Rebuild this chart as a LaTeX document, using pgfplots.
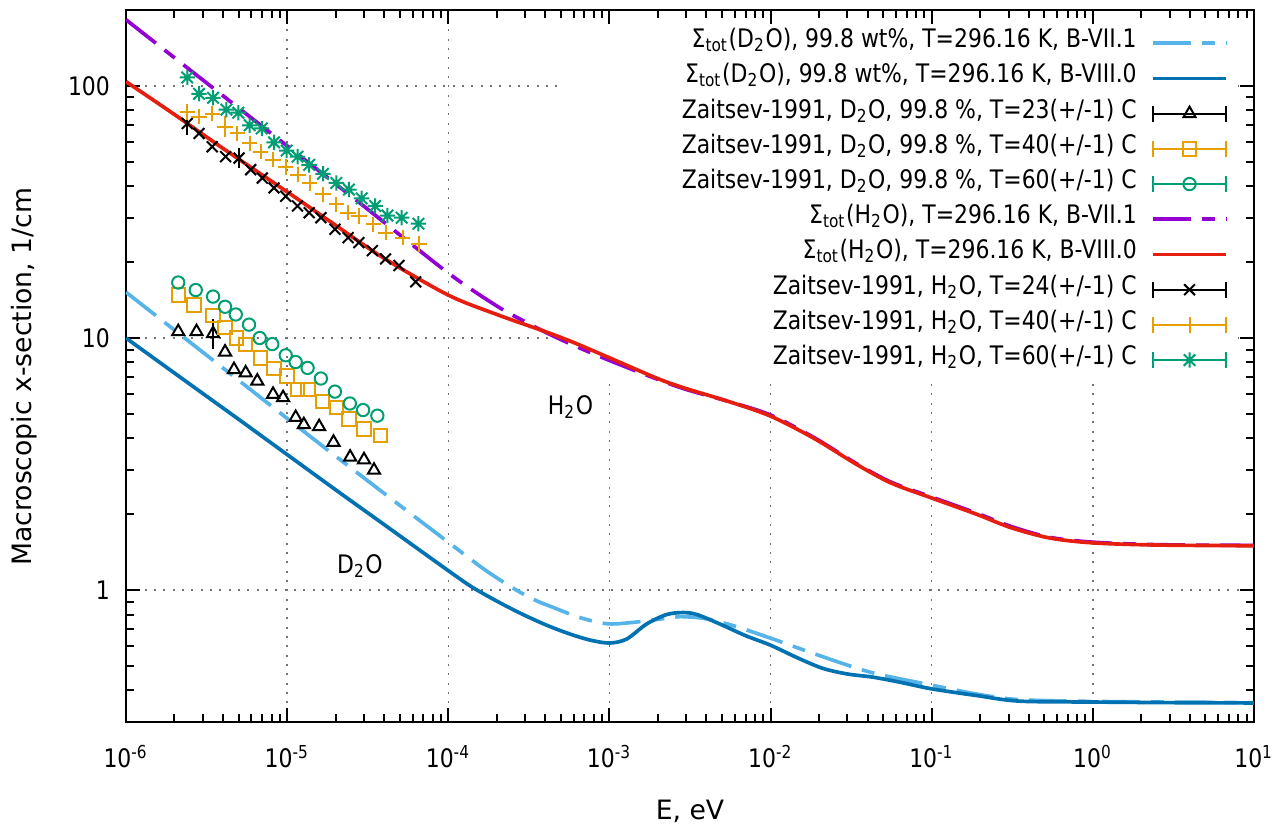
\documentclass[border=0pt]{standalone}
\usepackage{fontspec}
\setmainfont{DejaVu Sans}[FakeStretch=0.86]
\newfontfamily\labelfont{DejaVu Sans}
\usepackage{pgfplots}
\pgfplotsset{compat=1.18}
\definecolor{gpsky}{HTML}{56B4E9}
\definecolor{gpblue}{HTML}{0072B2}
\definecolor{gporange}{HTML}{E69F00}
\definecolor{gpgreen}{HTML}{009E73}
\definecolor{gppurple}{HTML}{9400D3}
\definecolor{gpred}{HTML}{E51E10}
\newcommand\tf{\fontsize{7.65}{9}\selectfont}
\pgfdeclareplotmark{gpstar}{%
 \pgfpathmoveto{\pgfqpoint{-\pgfplotmarksize}{0pt}}%
 \pgfpathlineto{\pgfqpoint{\pgfplotmarksize}{0pt}}%
 \pgfpathmoveto{\pgfqpoint{0pt}{-\pgfplotmarksize}}%
 \pgfpathlineto{\pgfqpoint{0pt}{\pgfplotmarksize}}%
 \pgfpathmoveto{\pgfqpoint{-.75\pgfplotmarksize}{-.75\pgfplotmarksize}}%
 \pgfpathlineto{\pgfqpoint{.75\pgfplotmarksize}{.75\pgfplotmarksize}}%
 \pgfpathmoveto{\pgfqpoint{-.75\pgfplotmarksize}{.75\pgfplotmarksize}}%
 \pgfpathlineto{\pgfqpoint{.75\pgfplotmarksize}{-.75\pgfplotmarksize}}%
 \pgfusepathqstroke}
\pgfplotsset{
 linelegend/.style={legend image code/.code={\draw (0pt,0pt) -- (22pt,0pt);}},
 errlegend/.style={legend image code/.code={%
   \draw[solid] (0pt,0pt) -- (22pt,0pt);
   \draw[solid] (0pt,-2.4pt) -- (0pt,2.4pt);
   \draw[solid] (22pt,-2.4pt) -- (22pt,2.4pt);
   \draw plot coordinates {(11pt,0pt)};}},
 gpdash/.style={dash pattern=on 11.4pt off 3.3pt on 3.9pt off 3.3pt},
 curve/.style={line width=1.1pt, smooth, tension=0.5, no marks, linelegend},
 pts/.style={only marks, line width=0.6pt, mark options={solid}, errlegend},
 ebar/.style={only marks, mark=*, mark options={opacity=0}, forget plot,
   error bars/y dir=both, error bars/y explicit,
   error bars/error bar style={line width=0.6pt, opacity=1},
   error bars/error mark options={opacity=1, mark size=2pt, line width=0.6pt}},
}
\begin{document}
\begin{tikzpicture}
\begin{axis}[
 name=ax,
 xmode=log, ymode=log,
 scale only axis, width=338.4pt, height=213.6pt,
 xmin=1e-6, xmax=10, ymin=0.3, ymax=200,
 xtick={1e-6,1e-5,1e-4,1e-3,1e-2,1e-1,1,10},
 xticklabels={10\textsuperscript{-6},10\textsuperscript{-5},10\textsuperscript{-4},10\textsuperscript{-3},10\textsuperscript{-2},10\textsuperscript{-1},10\textsuperscript{0},10\textsuperscript{1}},
 minor xtick={2e-6,3e-6,4e-6,5e-6,6e-6,7e-6,8e-6,9e-6,
  2e-5,3e-5,4e-5,5e-5,6e-5,7e-5,8e-5,9e-5,
  2e-4,3e-4,4e-4,5e-4,6e-4,7e-4,8e-4,9e-4,
  2e-3,3e-3,4e-3,5e-3,6e-3,7e-3,8e-3,9e-3,
  2e-2,3e-2,4e-2,5e-2,6e-2,7e-2,8e-2,9e-2,
  0.2,0.3,0.4,0.5,0.6,0.7,0.8,0.9,
  2,3,4,5,6,7,8,9},
 ytick={1,10,100}, yticklabels={1,10,100},
 minor ytick={0.4,0.5,0.6,0.7,0.8,0.9,2,3,4,5,6,7,8,9,20,30,40,50,60,70,80,90},
 tick align=inside,
 major tick length=4.2pt, minor tick length=2.5pt,
 tick style={black, line width=0.6pt},
 axis line style={line width=0.8pt},
 grid=major,
 major grid style={black!55, line width=0.45pt, dash pattern=on 0.6pt off 2.2pt},
 tick label style={font=\tf},
 xticklabel style={anchor=base, yshift=-13.8pt},
 yticklabel style={xshift=-1.3pt},
 xlabel={E, eV}, ylabel={Macroscopic x-section, 1/cm},
 label style={font=\labelfont\fontsize{8}{9.6}\selectfont},
 xlabel style={at={(axis description cs:0.5,-0.1376)}, anchor=base},
 ylabel style={at={(axis description cs:-0.0904,0.485)}, anchor=center},
 legend style={at={(axis description cs:0.977,0.978)}, anchor=north east, draw=none, fill=none,
   inner sep=0pt, outer sep=0pt, font=\tf, row sep=0pt, column sep=4.3pt,
   nodes={inner sep=0pt, text height=6.6pt, text depth=3.96pt}},
 legend cell align=right, legend plot pos=right,
]
\fill[white] (axis description cs:0.387,0.483) rectangle (axis description cs:0.986,0.98);

\addplot[curve, gpsky, gpdash] coordinates {(1e-6,15.2)(2e-6,10.75)(5e-6,6.8)(1e-5,4.8)(2e-5,3.4)(5e-5,2.17)(1e-4,1.55)(1.7e-4,1.2)(2.65e-4,1.0)(3.5e-4,0.91)(4.5e-4,0.853)(6.5e-4,0.78)(9.6e-4,0.736)(1.4e-3,0.745)(2.5e-3,0.78)(2.9e-3,0.785)(4e-3,0.77)(6e-3,0.72)(1e-2,0.645)(2.1e-2,0.545)(4.3e-2,0.47)(0.1,0.42)(0.2,0.385)(0.35,0.368)(1,0.362)(10,0.358)};
\addlegendentry{Σ\textsubscript{tot}(D\textsubscript{2}O), 99.8 wt\%, T=296.16 K, B-VII.1}

\addplot[curve, gpblue] coordinates {(1e-6,10.0)(2e-6,7.26)(5e-6,4.76)(1e-5,3.45)(2e-5,2.5)(4e-5,1.82)(1e-4,1.195)(1.4e-4,1.03)(2e-4,0.905)(2.8e-4,0.81)(4e-4,0.73)(5.5e-4,0.675)(7.5e-4,0.635)(1e-3,0.617)(1.28e-3,0.64)(1.7e-3,0.734)(2.26e-3,0.80)(2.87e-3,0.815)(3.5e-3,0.80)(4.85e-3,0.734)(7e-3,0.66)(1e-2,0.605)(1.46e-2,0.54)(2.1e-2,0.49)(3e-2,0.465)(4.3e-2,0.452)(6.4e-2,0.431)(0.1,0.406)(0.19,0.382)(0.35,0.363)(1,0.36)(3,0.358)(10,0.357)};
\addlegendentry{Σ\textsubscript{tot}(D\textsubscript{2}O), 99.8 wt\%, T=296.16 K, B-VIII.0}

\addplot[pts, black, mark=triangle, mark size=2.1pt] coordinates {(2.11e-6,10.6)(2.74e-6,10.6)(3.47e-6,10.4)(4.12e-6,8.8)(4.68e-6,7.5)(5.53e-6,7.27)(6.53e-6,6.75)(8.18e-6,5.98)(9.44e-6,5.8)(1.13e-5,4.84)(1.27e-5,4.53)(1.58e-5,4.45)(1.94e-5,3.86)(2.46e-5,3.37)(3.0e-5,3.29)(3.46e-5,2.99)};
\addlegendentry{Zaitsev-1991, D\textsubscript{2}O, 99.8 \%, T=23(+/-1) C}
\addplot[black, ebar] coordinates {(3.47e-6,10.4) +- (0,0.75)};

\addplot[pts, gporange, mark=square, mark size=2.0pt] coordinates {(2.11e-6,14.8)(2.64e-6,13.5)(3.47e-6,12.3)(4.12e-6,11.0)(4.84e-6,10.0)(5.53e-6,9.4)(6.85e-6,8.33)(8.29e-6,7.57)(1.0e-5,7.06)(1.16e-5,6.26)(1.35e-5,6.26)(1.66e-5,5.6)(2.02e-5,5.3)(2.42e-5,4.77)(3.0e-5,4.36)(3.81e-5,4.1)};
\addlegendentry{Zaitsev-1991, D\textsubscript{2}O, 99.8 \%, T=40(+/-1) C}

\addplot[pts, gpgreen, mark=o, mark size=1.85pt] coordinates {(2.11e-6,16.6)(2.71e-6,15.5)(3.47e-6,14.6)(4.12e-6,13.3)(4.8e-6,12.4)(5.8e-6,11.3)(6.76e-6,10.0)(8.09e-6,9.46)(9.8e-6,8.54)(1.13e-5,8.03)(1.34e-5,7.61)(1.62e-5,6.91)(1.98e-5,6.13)(2.45e-5,5.5)(2.96e-5,5.18)(3.63e-5,4.92)};
\addlegendentry{Zaitsev-1991, D\textsubscript{2}O, 99.8 \%, T=60(+/-1) C}

\addplot[curve, gppurple, gpdash] coordinates {(1e-6,183)(3e-6,105.5)(1e-5,57.8)(3e-5,33.3)(1e-4,18.1)(2e-4,13.4)(3e-4,11.6)(4e-4,10.55)(6e-4,9.35)(1e-3,8.15)(2e-3,6.85)(3e-3,6.25)(5.5e-3,5.6)(1e-2,4.95)(1.86e-2,4.03)(3.43e-2,3.17)(5.6e-2,2.68)(0.1,2.34)(0.19,2.02)(0.31,1.79)(0.54,1.62)(1,1.55)(2.5,1.515)(10,1.505)};
\addlegendentry{Σ\textsubscript{tot}(H\textsubscript{2}O), T=296.16 K, B-VII.1}

\addplot[curve, gpred] coordinates {(1e-6,104)(2e-6,77)(4e-6,56.5)(1e-5,38)(2e-5,28)(4e-5,20.7)(1e-4,14.8)(2e-4,12.4)(4e-4,10.6)(6e-4,9.6)(1e-3,8.35)(2e-3,6.9)(3e-3,6.3)(5.5e-3,5.6)(1e-2,4.9)(1.86e-2,4.0)(3.43e-2,3.15)(5.6e-2,2.66)(0.1,2.32)(0.19,2.0)(0.31,1.77)(0.54,1.61)(1,1.54)(2.5,1.51)(10,1.50)};
\addlegendentry{Σ\textsubscript{tot}(H\textsubscript{2}O), T=296.16 K, B-VIII.0}

\addplot[pts, black, mark=x, mark size=2.3pt] coordinates {(2.4e-6,70.9)(2.84e-6,64.8)(3.43e-6,57.4)(4.15e-6,52.4)(5.03e-6,51.7)(5.94e-6,46.5)(7.02e-6,43.1)(8.29e-6,39.4)(9.8e-6,36.5)(1.16e-5,33.4)(1.37e-5,31.4)(1.62e-5,30.0)(1.98e-5,27.0)(2.39e-5,25.0)(2.79e-5,23.9)(3.38e-5,22.2)(4.08e-5,20.6)(4.95e-5,19.4)(6.28e-5,16.7)};
\addlegendentry{Zaitsev-1991, H\textsubscript{2}O, T=24(+/-1) C}
\addplot[black, ebar] coordinates {(2.4e-6,70.9) +- (0,3) (5.03e-6,51.7) +- (0,1.5)};

\addplot[pts, gporange, mark=+, mark size=2.3pt] coordinates {(2.4e-6,78.8)(2.84e-6,75.4)(3.43e-6,77.6)(4.12e-6,68.8)(4.9e-6,64.8)(5.86e-6,59.1)(6.85e-6,54.9)(8.18e-6,50.9)(9.8e-6,47.7)(1.17e-5,44.5)(1.38e-5,41.2)(1.67e-5,37.1)(2.02e-5,33.9)(2.39e-5,31.4)(2.79e-5,30.5)(3.42e-5,28.2)(4.08e-5,26.2)(5.2e-5,25.0)(6.59e-5,23.6)};
\addlegendentry{Zaitsev-1991, H\textsubscript{2}O, T=40(+/-1) C}
\addplot[gporange, ebar] coordinates {(4.12e-6,68.8) +- (0,2.4)};

\addplot[pts, gpgreen, mark=gpstar, mark size=2.3pt] coordinates {(2.4e-6,108)(2.84e-6,93)(3.47e-6,89.7)(4.2e-6,80.5)(4.98e-6,78.3)(5.86e-6,69.8)(6.96e-6,67.8)(8.29e-6,59.7)(9.94e-6,55.4)(1.16e-5,52.4)(1.37e-5,48.6)(1.67e-5,44.8)(2.02e-5,41.2)(2.42e-5,38.8)(2.9e-5,35.8)(3.52e-5,33.4)(4.19e-5,30.6)(5.14e-5,30.0)(6.53e-5,28.4)};
\addlegendentry{Zaitsev-1991, H\textsubscript{2}O, T=60(+/-1) C}

\node[font=\tf, anchor=base] at (axis cs:5.73e-4,4.96) {H\textsubscript{2}O};
\node[font=\tf, anchor=base] at (axis cs:2.83e-5,1.16) {D\textsubscript{2}O};
\end{axis}
\pgfresetboundingbox
\path ([shift={(-37.8pt,-31.8pt)}]ax.south west) rectangle ([shift={(6.9pt,3pt)}]ax.north east);
\end{tikzpicture}
\end{document}
